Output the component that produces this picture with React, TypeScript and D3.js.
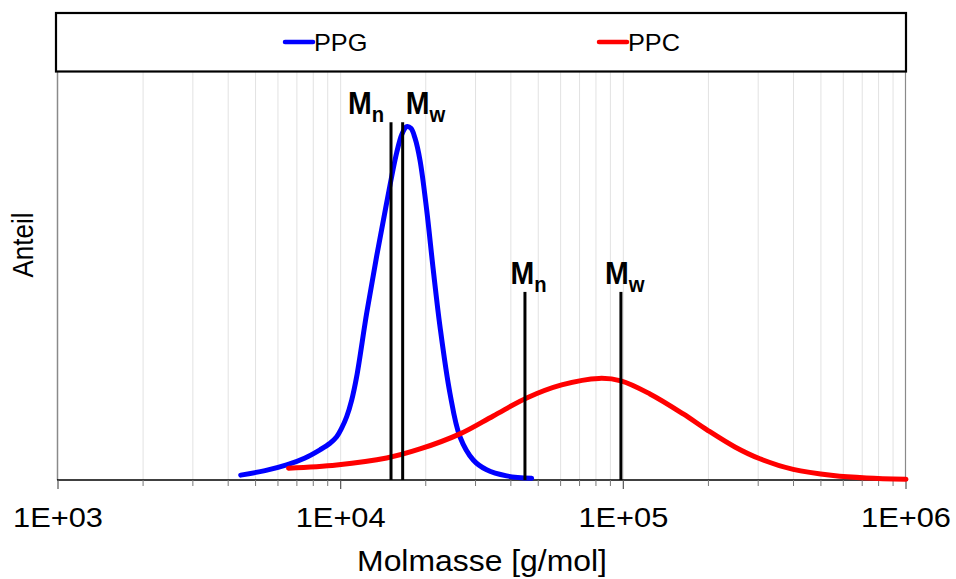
import React from 'react';
import * as d3 from 'd3';

// molar mass [g/mol] and share (arbitrary units, 0..1 of the plot height)
const ppgMass = [4430, 5400, 6440, 7480, 8450, 9170, 9680, 10080, 10500, 10940, 11390, 12360, 13410, 14540, 15780, 16480, 17120, 17730, 18320, 19080, 20150, 21260, 22460, 24350, 26420, 29450, 32840, 38650, 47380];
const ppgShare = [0.012, 0.023, 0.037, 0.054, 0.074, 0.090, 0.106, 0.127, 0.155, 0.196, 0.253, 0.409, 0.549, 0.679, 0.802, 0.848, 0.866, 0.862, 0.838, 0.784, 0.662, 0.515, 0.376, 0.213, 0.106, 0.049, 0.025, 0.010, 0.004];

const ppcMass = [6540, 9680, 14540, 19080, 26420, 34660, 45500, 60490, 81990, 98050, 124200, 162900, 197600, 248200, 304200, 399000, 552700, 725400, 1000000];
const ppcShare = [0.029, 0.037, 0.054, 0.076, 0.113, 0.157, 0.201, 0.233, 0.249, 0.243, 0.211, 0.162, 0.123, 0.081, 0.052, 0.026, 0.011, 0.005, 0.002];

const seriesNames = ['PPG', 'PPC'];
const seriesColors = ['#0000ff', '#ff0000'];

// Mn / Mw markers: mass and top of the marker line (share units)
const markerMass = [15070, 16570, 44870, 98050];
const markerTop = [0.877, 0.877, 0.461, 0.461];
const markerSub = ['n', 'w', 'n', 'w'];
const labelDx = [-43, 3, -14.5, -16];

const tickLabels = ['1E+03', '1E+04', '1E+05', '1E+06'];

const W = 956;
const H = 579;
const left = 58;
const right = 906;
const top = 72;
const bottom = 480;
const stretch = 'scale(1.1,1)';

export default function App() {
  const x = d3.scaleLog().domain([1e3, 1e6]).range([left, right]);
  const y = d3.scaleLinear().domain([0, 1]).range([bottom, top]);

  const line = d3
    .line<[number, number]>()
    .x((d) => x(d[0]))
    .y((d) => y(d[1]))
    .curve(d3.curveCatmullRom.alpha(0.5));

  const ppg = ppgMass.map((m, i) => [m, ppgShare[i]] as [number, number]);
  const ppc = ppcMass.map((m, i) => [m, ppcShare[i]] as [number, number]);

  const majors = [1e3, 1e4, 1e5, 1e6];
  const minors: number[] = [];
  for (let e = 3; e < 6; e++) {
    for (let k = 2; k <= 9; k++) minors.push(k * Math.pow(10, e));
  }

  const legendX = [285, 599];

  return (
    <svg
      width={W}
      height={H}
      style={{ position: 'absolute', left: 0, top: 0, background: '#fff' }}
      fontFamily="'Liberation Sans', Arial, sans-serif"
    >
      <rect x={0} y={0} width={W} height={H} fill="#fff" />

      {/* grid */}
      {minors.concat(majors.slice(1, 3)).map((m, i) => (
        <line key={'g' + i} x1={x(m)} x2={x(m)} y1={top} y2={bottom} stroke="#e2e2e2" strokeWidth={1} />
      ))}
      <line x1={x(1e6) - 0.5} x2={x(1e6) - 0.5} y1={top} y2={bottom} stroke="#8a8a8a" strokeWidth={1.2} />
      <line x1={left - 0.5} x2={left - 0.5} y1={top} y2={bottom} stroke="#8a8a8a" strokeWidth={1.5} />

      {/* x axis */}
      <line x1={left - 1} x2={right} y1={bottom} y2={bottom} stroke="#000" strokeWidth={1.5} />
      {minors.map((m, i) => (
        <line key={'mt' + i} x1={x(m)} x2={x(m)} y1={bottom} y2={bottom + 6} stroke="#777" strokeWidth={1} />
      ))}
      {majors.map((m, i) => (
        <g key={'t' + i}>
          <line x1={x(m)} x2={x(m)} y1={bottom} y2={bottom + 9} stroke="#555" strokeWidth={1.2} />
          <text
            transform={`translate(${x(m)},${527}) ${stretch}`}
            textAnchor="middle"
            fontSize={28}
          >
            {tickLabels[i]}
          </text>
        </g>
      ))}
      <text transform={`translate(${(left + right) / 2},${571}) ${stretch}`} textAnchor="middle" fontSize={29}>
        Molmasse [g/mol]
      </text>
      <text transform={`translate(${33},${245}) ${stretch} rotate(-90)`} textAnchor="middle" fontSize={26}>
        Anteil
      </text>

      {/* curves */}
      <path d={line(ppg) || ''} fill="none" stroke={seriesColors[0]} strokeWidth={5} strokeLinecap="round" strokeLinejoin="round" />
      <path d={line(ppc) || ''} fill="none" stroke={seriesColors[1]} strokeWidth={5} strokeLinecap="round" strokeLinejoin="round" />

      {/* Mn / Mw markers */}
      {markerMass.map((m, i) => (
        <g key={'mk' + i}>
          <line x1={x(m)} x2={x(m)} y1={bottom} y2={y(markerTop[i])} stroke="#000" strokeWidth={3} />
          <text
            transform={`translate(${x(m) + labelDx[i]},${y(markerTop[i]) - 8}) scale(0.92,1)`}
            fontSize={31}
            fontWeight="bold"
          >
            M
            <tspan fontSize={22} dy={8}>
              {markerSub[i]}
            </tspan>
          </text>
        </g>
      ))}

      {/* legend */}
      <rect x={56} y={13} width={850} height={58.5} fill="#fff" stroke="#000" strokeWidth={2.2} />
      {seriesNames.map((name, i) => (
        <g key={name}>
          <line x1={legendX[i]} x2={legendX[i] + 28} y1={42} y2={42} stroke={seriesColors[i]} strokeWidth={4.5} strokeLinecap="round" />
          <text transform={`translate(${legendX[i] + 29},${51}) ${stretch}`} fontSize={23}>
            {name}
          </text>
        </g>
      ))}
    </svg>
  );
}
